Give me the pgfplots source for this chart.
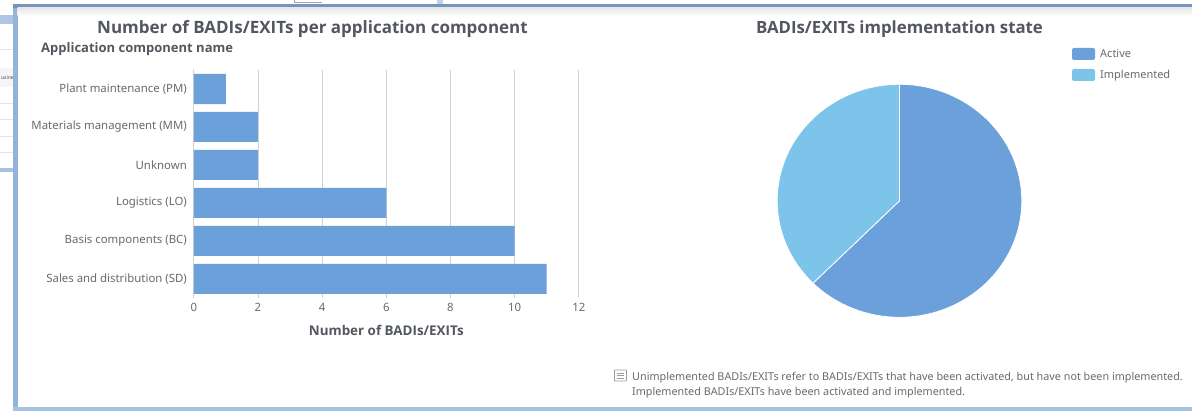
\documentclass[border=0pt]{standalone}
\usepackage{fontspec}
\setmainfont{Noto Sans}
\newfontfamily\bfont{Open Sans}
\usepackage{pgfplots}
\usepackage{pgfplotstable}
\pgfplotsset{compat=1.18}
\definecolor{barblue}{HTML}{6CA0DB}
\definecolor{pielight}{HTML}{7DC4EA}
\definecolor{titlegrey}{HTML}{53575F}
\definecolor{labelgrey}{HTML}{6A6A6A}
\definecolor{gridgrey}{HTML}{D0D0D0}
\definecolor{frametop}{HTML}{7595BA}
\definecolor{frameleft}{HTML}{93B3D9}
\definecolor{framebot}{HTML}{A3C3E3}
\pgfplotstableread{
idx value
0 1
1 2
2 2
3 6
4 10
5 11
}\bardata
\pgfplotstableread{
idx value
0 20
1 12
}\piedata
\begin{document}
\begin{tikzpicture}[x=1pt,y=1pt]
\useasboundingbox (0,0) rectangle (1192,411);
\fill[white] (0,0) rectangle (1192,411);
% screenshot remnants behind the window
\fill[frameleft!75] (0,387) rectangle (14,396);
\draw[gray!20,line width=0.7pt] (0,362) -- (14,362);
\fill[gray!8] (0,324) rectangle (14,343);
\node[anchor=east,font=\fontsize{5}{6}\selectfont,text=black!70,inner sep=0pt] at (14,333) {usine};
\foreach \y in {308,292,275,259}{\draw[gray!20,line width=0.7pt] (0,\y) -- (14,\y);}
\fill[frameleft!80] (0,239) rectangle (14,243);
\fill[frameleft!60] (437,407) rectangle (443,411);
\draw[gray!70,line width=0.6pt] (294,411) -- (294,408.5) -- (322,408.5);
% window frame
\fill[frameleft] (13,0) rectangle (17.5,407);
\fill[framebot] (13,0) rectangle (1192,4.3);
\fill[frametop] (13,403) rectangle (1192,407);
\shade[top color=gray!18,bottom color=white] (17.5,395) rectangle (1192,403);
% titles
\node[anchor=center,font=\bfont\bfseries\fontsize{17}{19}\selectfont,text=titlegrey,inner sep=0pt] at (312.5,382.3) {Number of BADIs/EXITs per application component};
\node[anchor=west,font=\bfont\bfseries\fontsize{13}{15}\selectfont,text=titlegrey,inner sep=0pt] at (41,361.8) {Application component name};
\node[anchor=center,font=\bfont\bfseries\fontsize{16.8}{19}\selectfont,text=titlegrey,inner sep=0pt] at (899.5,382.3) {BADIs/EXITs implementation state};
% bar chart
\begin{axis}[
  at={(193.8pt,113pt)},anchor=south west,scale only axis,
  width=385pt,height=228pt,
  xbar,bar width=30pt,bar shift=0pt,
  xmin=0,xmax=12,ymin=-0.5,ymax=5.5,y dir=reverse,
  axis line style={draw=none},
  tick style={draw=none},
  xmajorgrids,grid style={gridgrey,line width=0.8pt},
  xtick={0,2,...,12},
  ytick={0,1,2,3,4,5},
  yticklabels={Plant maintenance (PM),Materials management (MM),Unknown,Logistics (LO),Basis components (BC),Sales and distribution (SD)},
  /pgf/number format/assume math mode=true,
  ticklabel style={font=\fontsize{11.4}{13}\selectfont,text=labelgrey},
  xticklabel style={anchor=center,yshift=-9pt},
  yticklabel style={anchor=east,inner sep=0pt,xshift=-2.5pt},
  xlabel={Number of BADIs/EXITs},
  every axis x label/.style={at={(axis description cs:0.5,0)},anchor=center,yshift=-32pt,font=\bfont\bfseries\fontsize{13.4}{15}\selectfont,text=titlegrey},
]
\addplot[fill=barblue,draw=none] table[y=idx,x=value] {\bardata};
\end{axis}
% pie chart
\pgfplotstablegetelem{0}{value}\of\piedata \let\valA\pgfplotsretval
\pgfplotstablegetelem{1}{value}\of\piedata \let\valB\pgfplotsretval
\pgfmathsetmacro{\angA}{90-360*\valA/(\valA+\valB)}
\pgfmathsetmacro{\angB}{\angA+360}
\begin{axis}[
  at={(899.5pt,210.2pt)},anchor=center,scale only axis,hide axis,
  width=244.6pt,height=233pt,xmin=-1,xmax=1,ymin=-1,ymax=1,clip=false,
]
\fill[barblue,draw=white,line width=0.8pt,line join=round] (axis cs:0,0) -- (axis cs:0,1) arc[start angle=90,end angle=\angA,x radius=122.3pt,y radius=116.5pt] -- cycle;
\fill[pielight,draw=white,line width=0.8pt,line join=round] (axis cs:0,0) -- (axis cs:0,1) arc[start angle=90,end angle=\angB,x radius=122.3pt,y radius=116.5pt] -- cycle;
\end{axis}
% legend
\fill[barblue,rounded corners=2pt] (1072,351) rectangle (1095,363);
\fill[pielight,rounded corners=2pt] (1072,330) rectangle (1095,342);
\node[anchor=west,inner sep=0pt,font=\fontsize{11}{13}\selectfont,text=labelgrey] at (1100,357.5) {Active};
\node[anchor=west,inner sep=0pt,font=\fontsize{11}{13}\selectfont,text=labelgrey] at (1100,335.5) {Implemented};
% note
\draw[gray!80,line width=0.7pt,rounded corners=0.5pt] (614.5,41) rectangle (626.5,30);
\foreach \y in {38,35.5,33}{\draw[gray!80,line width=0.6pt] (617,\y) -- (624,\y);}
\node[anchor=west,inner sep=0pt,font=\fontsize{10.8}{13}\selectfont,text=labelgrey] at (632,33.8) {Unimplemented BADIs/EXITs refer to BADIs/EXITs that have been activated, but have not been implemented.};
\node[anchor=west,inner sep=0pt,font=\fontsize{10.8}{13}\selectfont,text=labelgrey] at (632,18.8) {Implemented BADIs/EXITs have been activated and implemented.};
\end{tikzpicture}
\end{document}
